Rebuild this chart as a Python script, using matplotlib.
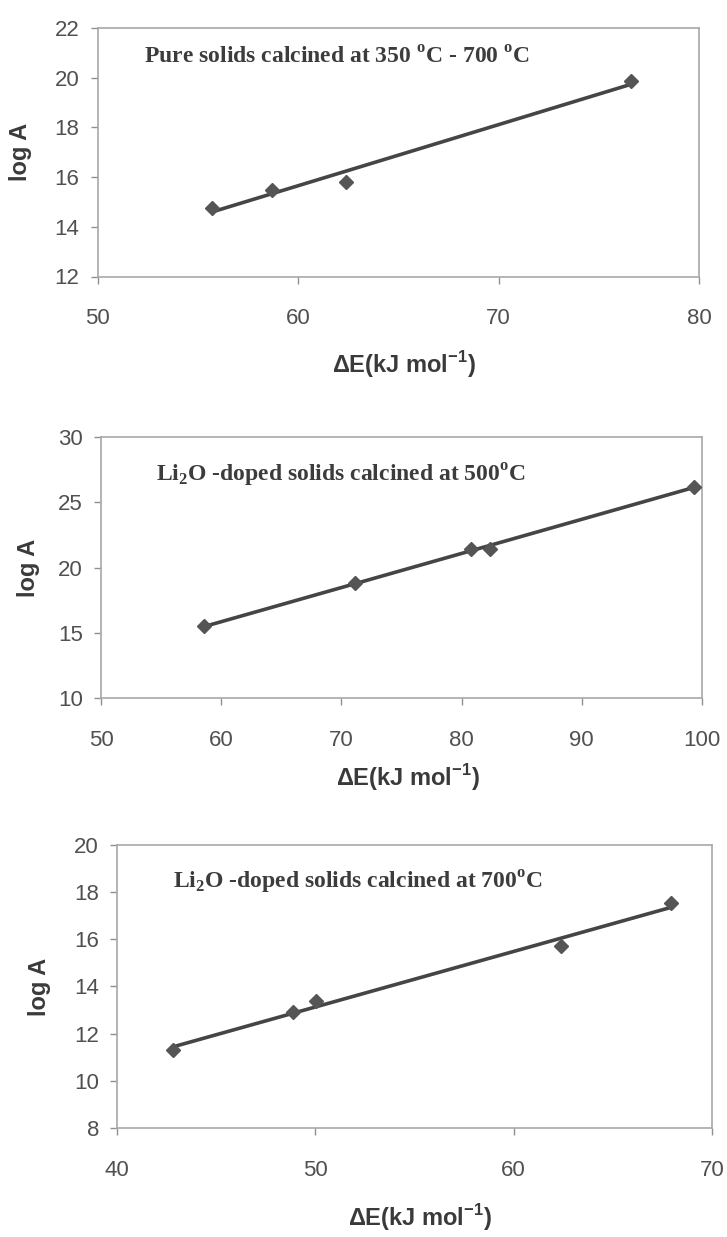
import numpy as np
import matplotlib
matplotlib.use('Agg')
import matplotlib.pyplot as plt

plt.rcParams['font.family'] = ['Liberation Sans', 'DejaVu Sans']
plt.rcParams['mathtext.fontset'] = 'custom'
plt.rcParams['mathtext.rm'] = 'Liberation Serif:bold'
plt.rcParams['mathtext.sf'] = 'Liberation Sans:bold'

# data
pure_E = [55.7, 58.7, 62.4, 76.6]
pure_logA = [14.75, 15.5, 15.8, 19.85]

li500_E = [58.6, 71.1, 80.8, 82.4, 99.3]
li500_logA = [15.5, 18.8, 21.4, 21.45, 26.2]

li700_E = [42.8, 48.85, 50.05, 62.4, 67.95]
li700_logA = [11.3, 12.9, 13.4, 15.7, 17.55]

titles = ['Pure solids calcined at 350 $^{\\mathrm{o}}$C - 700 $^{\\mathrm{o}}$C',
          'Li$_{\\mathrm{2}}$O -doped solids calcined at 500$^{\\mathrm{o}}$C',
          'Li$_{\\mathrm{2}}$O -doped solids calcined at 700$^{\\mathrm{o}}$C']

xlims = [(50, 80), (50, 100), (40, 70)]
ylims = [(12, 22), (10, 30), (8, 20)]
xticks = [[50, 60, 70, 80], [50, 60, 70, 80, 90, 100], [40, 50, 60, 70]]
yticks = [[12, 14, 16, 18, 20, 22], [10, 15, 20, 25, 30], [8, 10, 12, 14, 16, 18, 20]]

W, H = 727, 1237
# axes boxes in pixels: left, right, top, bottom
boxes = [(97.5, 699, 28, 276.5), (101, 702, 437, 698), (117, 712, 845, 1128)]
title_pos = [(0.077, 0.879), (0.0915, 0.854), (0.094, 0.869)]
ylab_x = [20, 28, 40]
xlab_y = [365, 778, 1218]

fig = plt.figure(figsize=(W / 100, H / 100), dpi=100)

series = [(pure_E, pure_logA), (li500_E, li500_logA), (li700_E, li700_logA)]

for i, (E, logA) in enumerate(series):
    l, r, t, b = boxes[i]
    ax = fig.add_axes([l / W, 1 - b / H, (r - l) / W, (b - t) / H])
    E = np.array(E)
    logA = np.array(logA)
    k, c = np.polyfit(E, logA, 1)
    xs = np.array([E.min(), E.max()])
    ax.plot(xs, k * xs + c, color='#454545', lw=2.6, solid_capstyle='round', zorder=2)
    ax.plot(E, logA, 'D', color='#555555', ms=7.5, zorder=3)

    ax.set_xlim(*xlims[i])
    ax.set_ylim(*ylims[i])
    ax.set_xticks(xticks[i])
    ax.set_yticks(yticks[i])
    for s in ax.spines.values():
        s.set_color('#a8a8a8')
        s.set_linewidth(1.2)
    ax.tick_params(axis='both', direction='out', length=5, width=1, color='#909090',
                   labelsize=16, labelcolor='#505050')
    ax.tick_params(axis='x', pad=18)
    ax.tick_params(axis='y', pad=8)

    ax.text(title_pos[i][0], title_pos[i][1], titles[i], transform=ax.transAxes,
            ha='left', va='center', fontsize=17, fontweight='bold',
            family='Liberation Serif', color='#3c3c3c')

    ax.set_ylabel('log A', fontsize=17, fontweight='bold', color='#3a3a3a', va='center')
    ax.yaxis.set_label_coords((ylab_x[i] - l) / (r - l), 0.5)
    ax.set_xlabel('\u0394E(kJ mol$^{\\mathsf{-1}}$)', fontsize=17, fontweight='bold',
                  color='#3a3a3a', va='center')
    ax.xaxis.set_label_coords(0.51, 1 - (xlab_y[i] - t) / (b - t))

fig.savefig('out.png', dpi=100)
